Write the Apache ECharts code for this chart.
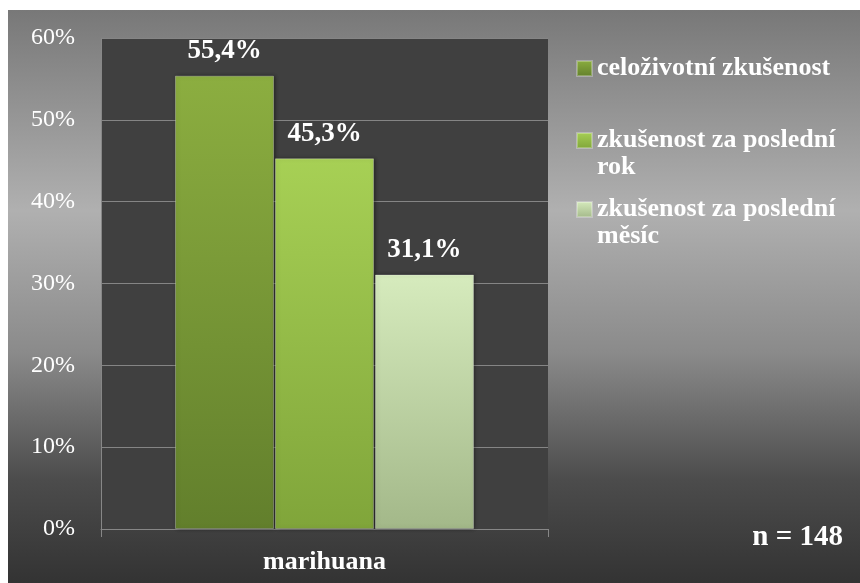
<!DOCTYPE html>
<html>
<head>
<meta charset="utf-8">
<script src="https://cdn.jsdelivr.net/npm/echarts@6/dist/echarts.min.js"></script>
<style>
  html, body { margin: 0; padding: 0; background: #ffffff; }
  #chart { width: 860px; height: 583px; }
</style>
</head>
<body>
<div id="chart"></div>
<script>
// Drug use prevalence – marihuana
const categories = ['marihuana'];
const seriesNames = ['celoživotní zkušenost', 'zkušenost za poslední rok', 'zkušenost za poslední měsíc'];
const lifetimeValues = [55.4];
const lastYearValues = [45.3];
const lastMonthValues = [31.1];
const yTickValues = [0, 10, 20, 30, 40, 50, 60];
const sampleNote = 'n = 148';

const serif = "'Liberation Serif', 'Times New Roman', serif";

function vGrad(top, bottom) {
  return new echarts.graphic.LinearGradient(0, 0, 0, 1, [
    { offset: 0, color: top },
    { offset: 1, color: bottom }
  ]);
}

const barColors = [
  vGrad('#8cae40', '#627f2c'),
  vGrad('#a7d055', '#80a53a'),
  vGrad('#d6ebbd', '#a3b889')
];

function pctLabel(v) {
  return v.toFixed(1).replace('.', ',') + '%';
}

const seriesData = [lifetimeValues, lastYearValues, lastMonthValues];

const series = seriesNames.map((name, i) => ({
  name: name,
  type: 'bar',
  data: seriesData[i],
  barWidth: 99,
  barGap: '1%',
  itemStyle: {
    color: barColors[i],
    borderColor: 'rgba(255,255,255,0.28)',
    borderWidth: 1,
    shadowColor: 'rgba(0,0,0,0.45)',
    shadowBlur: 4,
    shadowOffsetX: 1
  },
  label: {
    show: true,
    position: 'top',
    distance: 11,
    formatter: p => pctLabel(p.value),
    color: '#ffffff',
    fontFamily: serif,
    fontWeight: 'bold',
    fontSize: 27
  }
}));

// Long legend names wrap after "poslední"; a leading blank line keeps the
// first text line level with the legend swatch.
function legendText(n) {
  return n.indexOf(' poslední ') >= 0 ? '\n' + n.replace(' poslední ', ' poslední\n') : n;
}

function legendFor(name, top) {
  return {
    data: [name],
    orient: 'vertical',
    left: 576,
    top: top,
    padding: 0,
    icon: 'rect',
    itemWidth: 15,
    itemHeight: 15,
    selectedMode: false,
    formatter: legendText,
    textStyle: {
      color: '#ffffff',
      fontFamily: serif,
      fontWeight: 'bold',
      fontSize: 26,
      lineHeight: 27
    }
  };
}

const chart = echarts.init(document.getElementById('chart'), null, { renderer: 'canvas' });

chart.setOption({
  animation: false,
  backgroundColor: 'transparent',
  graphic: [
    {
      type: 'rect',
      z: -100,
      silent: true,
      shape: { x: 8, y: 10, width: 852, height: 573 },
      style: {
        fill: new echarts.graphic.LinearGradient(0, 0, 0, 1, [
          { offset: 0, color: '#787878' },
          { offset: 0.35, color: '#b0b0b0' },
          { offset: 0.6, color: '#8a8a8a' },
          { offset: 0.82, color: '#4c4c4c' },
          { offset: 1, color: '#333333' }
        ])
      }
    },
    {
      type: 'text',
      z: 10,
      x: 843,
      y: 538,
      style: {
        text: sampleNote,
        align: 'right',
        verticalAlign: 'middle',
        fill: '#ffffff',
        font: "bold 29px 'Liberation Serif', serif"
      }
    }
  ],
  legend: [
    legendFor(seriesNames[0], 55),
    legendFor(seriesNames[1], 100),
    legendFor(seriesNames[2], 169)
  ],
  grid: {
    left: 101,
    right: 312,
    top: 38,
    bottom: 54,
    show: true,
    backgroundColor: '#404040',
    borderWidth: 0
  },
  xAxis: {
    type: 'category',
    data: categories,
    axisLine: { show: true, lineStyle: { color: '#878787', width: 1 } },
    axisTick: { show: true, length: 8, lineStyle: { color: '#878787' } },
    axisLabel: {
      color: '#ffffff',
      fontFamily: serif,
      fontWeight: 'bold',
      fontSize: 26,
      margin: 20
    }
  },
  yAxis: {
    type: 'value',
    min: yTickValues[0],
    max: yTickValues[yTickValues.length - 1],
    interval: yTickValues[1] - yTickValues[0],
    axisLine: { show: true, lineStyle: { color: '#878787', width: 1 } },
    axisTick: { show: false },
    splitLine: { show: true, lineStyle: { color: '#858585', width: 1 } },
    axisLabel: {
      color: '#ffffff',
      fontFamily: serif,
      fontSize: 24,
      margin: 26,
      formatter: '{value}%'
    }
  },
  series: series
});
</script>
</body>
</html>
